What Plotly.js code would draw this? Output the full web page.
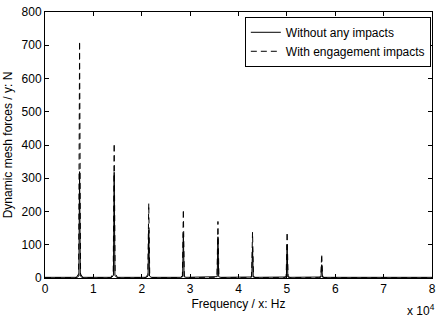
<!DOCTYPE html>
<html>
<head>
<meta charset="utf-8">
<script src="https://cdn.plot.ly/plotly-3.0.1.min.js"></script>
<style>html,body{margin:0;padding:0;background:#fff;}#chart{width:439px;height:320px;}</style>
</head>
<body>
<div id="chart"></div>
<script>
// Spectrum without impacts (Hz, N)
const solidFreq = [0,
  6650, 7000, 7150, 7300, 7650,
  13800, 14150, 14300, 14450, 14800,
  20950, 21300, 21450, 21600, 21950,
  28100, 28450, 28600, 28750, 29100,
  35250, 35600, 35750, 35900, 36250,
  42400, 42750, 42900, 43050, 43400,
  49550, 49900, 50050, 50200, 50550,
  56700, 57050, 57200, 57350, 57700,
  80000];
const solidAmp = [2,
  2, 6, 320, 6, 2,
  2, 8, 318, 8, 2,
  2, 6, 144, 6, 2,
  2, 4, 134, 4, 2,
  2, 4, 124, 4, 2,
  2, 3, 92, 3, 2,
  2, 3, 100, 3, 2,
  2, 3, 40, 3, 2,
  2];
// Spectrum with engagement impacts (Hz, N)
const dashFreq = [0,
  6450, 6950, 7150, 7350, 7850,
  13600, 14100, 14300, 14500, 15000,
  20750, 21250, 21450, 21650, 22150,
  27900, 28400, 28600, 28800, 29300,
  35050, 35550, 35750, 35950, 36450,
  42200, 42700, 42900, 43100, 43600,
  49350, 49850, 50050, 50250, 50750,
  56500, 57000, 57200, 57400, 57900,
  80000];
const dashAmp = [1,
  1, 12, 712, 12, 1,
  1, 14, 405, 14, 1,
  1, 10, 224, 10, 1,
  1, 6, 206, 6, 1,
  1, 5, 170, 5, 1,
  1, 4, 138, 4, 1,
  1, 4, 138, 4, 1,
  1, 3, 72, 3, 1,
  1];
const xTickVals = [0, 10000, 20000, 30000, 40000, 50000, 60000, 70000, 80000];
const xTickText = ['0', '1', '2', '3', '4', '5', '6', '7', '8'];
const seriesNames = ['Without any impacts', 'With engagement impacts'];

const font = {family: 'Arial, "Liberation Sans", sans-serif', size: 12, color: '#000'};

const traces = [
  {x: solidFreq, y: solidAmp, type: 'scatter', mode: 'lines', name: seriesNames[0],
   line: {color: '#000', width: 1}},
  {x: dashFreq, y: dashAmp, type: 'scatter', mode: 'lines', name: seriesNames[1],
   line: {color: '#000', width: 1, dash: '6px,4px'}}
];

const axisCommon = {
  showline: true, linecolor: '#000', linewidth: 1, mirror: 'ticks',
  ticks: 'inside', ticklen: 4, tickcolor: '#000', tickwidth: 1,
  showgrid: false, zeroline: false, tickfont: font
};

const layout = {
  width: 439, height: 320,
  margin: {l: 45, r: 7, t: 12, b: 42},
  paper_bgcolor: '#fff', plot_bgcolor: '#fff',
  font: font,
  showlegend: true,
  legend: {x: 0.997, y: 0.982, xanchor: 'right', yanchor: 'top',
           bordercolor: '#000', borderwidth: 1, bgcolor: '#fff',
           font: font, tracegroupgap: 0},
  xaxis: Object.assign({}, axisCommon, {
    range: [0, 80000], tickvals: xTickVals, ticktext: xTickText,
    title: {text: 'Frequency / x: Hz', font: font, standoff: 4}
  }),
  yaxis: Object.assign({}, axisCommon, {
    range: [0, 800], tickvals: [0,100,200,300,400,500,600,700,800],
    title: {text: 'Dynamic mesh forces / y: N', font: font, standoff: 6}
  }),
  annotations: [{
    xref: 'paper', yref: 'paper', x: 1.013, y: -0.12,
    xanchor: 'right', yanchor: 'middle', showarrow: false,
    text: 'x 10<sup>4</sup>', font: font
  }]
};

Plotly.newPlot('chart', traces, layout, {displayModeBar: false, staticPlot: true});
</script>
</body>
</html>
